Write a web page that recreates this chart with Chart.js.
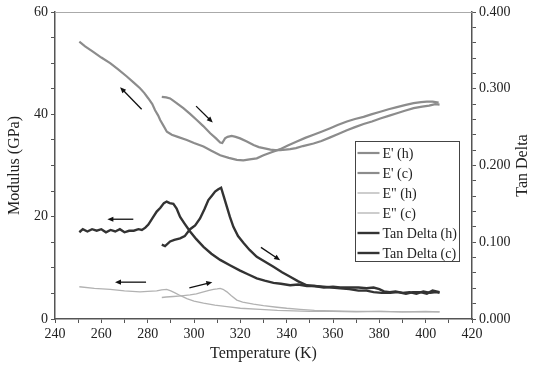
<!DOCTYPE html>
<html>
<head>
<meta charset="utf-8">
<script src="https://cdn.jsdelivr.net/npm/chart.js@4"></script>
<style>
  html, body { margin: 0; padding: 0; background: #fff; }
  canvas { display: block; }
</style>
</head>
<body>
<canvas id="dmaChart" width="534" height="369"></canvas>
<script>
// heating (h) runs from 286 K upward, cooling (c) from 406 K down to 250 K
var ePrimeHTemp = [286.1, 288, 289.7, 292.5, 295.4, 298.3, 301.2, 304, 307, 309.5, 311.3, 312.2, 313.4, 314.5, 316.3, 318, 319.9, 322.8, 325.7, 328, 330, 333, 335, 337.2, 339.5, 341.5, 344, 347, 351.6, 355, 358.8, 362.5, 366, 369.5, 373.2, 376.8, 380.4, 384, 387.6, 391, 394.8, 398.5, 401.5, 404.1, 406];
var ePrimeH = [43.4, 43.3, 43.1, 42.2, 41.2, 40.1, 38.9, 37.7, 36.3, 35.3, 34.5, 34.4, 35.3, 35.6, 35.8, 35.6, 35.3, 34.7, 34.0, 33.6, 33.4, 33.1, 33.0, 33.0, 33.1, 33.2, 33.4, 33.8, 34.3, 34.8, 35.5, 36.2, 36.9, 37.5, 38.1, 38.6, 39.2, 39.7, 40.2, 40.7, 41.2, 41.5, 41.7, 42.0, 41.9];

var ePrimeCTemp = [250.5, 253, 256.5, 260, 263.8, 267, 271, 274, 276.7, 278.5, 280.3, 282, 283.2, 284.5, 285.4, 286.8, 288.3, 290.4, 293, 296.9, 300, 304.1, 307.5, 311.3, 315, 318.5, 321.3, 324, 327.1, 330, 333.5, 337.2, 340.5, 344.4, 348, 351.6, 355, 358.8, 362, 366, 369.5, 373.2, 376.5, 380.4, 384, 387.6, 391, 394.8, 398, 400.5, 403, 405.6];
var ePrimeC = [54.2, 53.3, 52.2, 51.1, 50.0, 48.9, 47.4, 46.2, 45.1, 44.2, 43.1, 42.0, 40.8, 39.8, 38.9, 37.8, 36.6, 36.0, 35.6, 35.0, 34.4, 33.7, 32.9, 32.0, 31.5, 31.1, 31.0, 31.2, 31.4, 32.0, 32.6, 33.2, 33.9, 34.7, 35.4, 36.0, 36.6, 37.3, 37.9, 38.6, 39.1, 39.5, 40.0, 40.5, 41.0, 41.4, 41.8, 42.2, 42.4, 42.5, 42.5, 42.3];

var eDoubleHTemp = [286.1, 288, 291.1, 294.5, 298.3, 301, 304.1, 306.5, 308.4, 310, 311.3, 312.5, 314.2, 316, 318.5, 321, 325.7, 330, 335.8, 340, 345.8, 352, 360, 370, 380, 390, 400, 406];
var eDoubleH = [4.2, 4.3, 4.4, 4.5, 4.7, 4.9, 5.3, 5.6, 5.8, 5.9, 6.0, 5.8, 5.3, 4.6, 3.7, 3.3, 2.9, 2.6, 2.3, 2.1, 1.9, 1.7, 1.6, 1.5, 1.5, 1.4, 1.4, 1.4];

var eDoubleCTemp = [250.5, 257, 263.8, 270, 276.7, 280, 283.9, 286, 288.2, 290, 291.8, 294, 296.9, 300, 304.1, 309, 314.2, 320, 328.6, 336, 343, 350, 360, 370, 380, 390, 400, 406];
var eDoubleC = [6.3, 6.0, 5.8, 5.5, 5.3, 5.4, 5.5, 5.7, 5.8, 5.5, 5.1, 4.6, 4.0, 3.5, 3.1, 2.7, 2.4, 2.1, 1.9, 1.7, 1.6, 1.5, 1.5, 1.4, 1.5, 1.4, 1.5, 1.4];

var tanDeltaHTemp = [286.1, 287.5, 289.7, 291.5, 294, 296, 298.3, 300.5, 302.6, 304.5, 306.2, 307.8, 309.1, 310.5, 311.7, 312.8, 314.2, 315.5, 317, 319, 321.4, 324, 327.1, 330.5, 334.3, 338, 341.5, 345, 348.7, 352, 355.9, 359.5, 363.1, 367, 371, 374.5, 377.5, 381, 384.7, 388, 391.5, 394.5, 397.7, 400.5, 403, 406];
var tanDeltaH = [0.097, 0.095, 0.101, 0.103, 0.105, 0.108, 0.117, 0.122, 0.131, 0.143, 0.155, 0.161, 0.166, 0.169, 0.171, 0.160, 0.146, 0.133, 0.120, 0.108, 0.099, 0.090, 0.081, 0.075, 0.068, 0.061, 0.055, 0.049, 0.044, 0.043, 0.042, 0.041, 0.040, 0.039, 0.037, 0.037, 0.035, 0.034, 0.034, 0.035, 0.033, 0.035, 0.035, 0.033, 0.037, 0.035];

var tanDeltaCTemp = [250.5, 252, 254, 256, 258, 260, 262, 264, 266, 268, 270, 272, 274, 276, 277.5, 279, 280.3, 282, 283.9, 285.5, 287, 288.2, 289.5, 291.1, 292.5, 294, 296, 298.3, 301, 304.1, 307.5, 311.3, 315.5, 319.9, 323.5, 327.1, 330.5, 334.3, 337.5, 341.5, 345, 348.7, 352, 356, 360, 363.1, 367, 371, 374.5, 377.5, 380, 382, 384.5, 387, 390, 393, 396, 399, 402, 404.5, 406];
var tanDeltaC = [0.113, 0.117, 0.114, 0.117, 0.115, 0.117, 0.113, 0.116, 0.114, 0.117, 0.113, 0.115, 0.115, 0.117, 0.116, 0.119, 0.123, 0.131, 0.140, 0.145, 0.151, 0.153, 0.151, 0.150, 0.144, 0.133, 0.124, 0.114, 0.104, 0.094, 0.085, 0.077, 0.070, 0.063, 0.058, 0.053, 0.050, 0.047, 0.046, 0.044, 0.045, 0.043, 0.043, 0.041, 0.042, 0.041, 0.041, 0.041, 0.040, 0.041, 0.039, 0.036, 0.035, 0.036, 0.034, 0.035, 0.033, 0.036, 0.034, 0.035, 0.034];

var seriesLabels = ["E' (h)", "E' (c)", "E\" (h)", "E\" (c)", "Tan Delta (h)", "Tan Delta (c)"];

// direction arrows, [T start, E start, T end, E end] in axis units (left axis)
var arrows = [
    [277.4, 41.0, 268.1, 45.3],
    [300.9, 41.6, 308.1, 38.4],
    [273.8, 19.5, 262.6, 19.5],
    [328.9, 14.0, 337.2, 11.5],
    [279.3, 7.2, 265.9, 7.2],
    [298.0, 6.1, 307.9, 7.2]
];

function pairUp(xs, ys) {
    return xs.map(function (x, i) { return { x: x, y: ys[i] }; });
}

var serif = "'Liberation Serif', 'Times New Roman', serif";
var axisColor = '#555';

function makeSet(label, xs, ys, color, width, axis) {
    return {
        label: label,
        data: pairUp(xs, ys),
        borderColor: color,
        borderWidth: width,
        pointRadius: 0,
        tension: 0,
        fill: false,
        yAxisID: axis
    };
}

var datasets = [
    makeSet(seriesLabels[0], ePrimeHTemp, ePrimeH, '#8c8c8c', 2.2, 'y'),
    makeSet(seriesLabels[1], ePrimeCTemp, ePrimeC, '#8c8c8c', 2.2, 'y'),
    makeSet(seriesLabels[2], eDoubleHTemp, eDoubleH, '#b2b2b2', 1.3, 'y'),
    makeSet(seriesLabels[3], eDoubleCTemp, eDoubleC, '#b2b2b2', 1.3, 'y'),
    makeSet(seriesLabels[4], tanDeltaHTemp, tanDeltaH, '#333333', 2.4, 'y2'),
    makeSet(seriesLabels[5], tanDeltaCTemp, tanDeltaC, '#333333', 2.4, 'y2')
];

var decor = {
    id: 'decor',
    afterDraw: function (chart) {
        var ctx = chart.ctx;
        var area = chart.chartArea;
        var xs = chart.scales.x, ys = chart.scales.y;
        ctx.save();

        // thin frame line along the top
        ctx.strokeStyle = '#aaa';
        ctx.lineWidth = 1;
        ctx.beginPath();
        ctx.moveTo(area.left, area.top + 0.5);
        ctx.lineTo(area.right, area.top + 0.5);
        ctx.stroke();

        // arrows
        ctx.strokeStyle = '#111';
        ctx.fillStyle = '#111';
        ctx.lineWidth = 1.3;
        arrows.forEach(function (a) {
            var x1 = xs.getPixelForValue(a[0]), y1 = ys.getPixelForValue(a[1]);
            var x2 = xs.getPixelForValue(a[2]), y2 = ys.getPixelForValue(a[3]);
            var ang = Math.atan2(y2 - y1, x2 - x1);
            ctx.beginPath();
            ctx.moveTo(x1, y1);
            ctx.lineTo(x2 - 4 * Math.cos(ang), y2 - 4 * Math.sin(ang));
            ctx.stroke();
            ctx.beginPath();
            ctx.moveTo(x2, y2);
            ctx.lineTo(x2 - 6 * Math.cos(ang) + 2.6 * Math.sin(ang), y2 - 6 * Math.sin(ang) - 2.6 * Math.cos(ang));
            ctx.lineTo(x2 - 6 * Math.cos(ang) - 2.6 * Math.sin(ang), y2 - 6 * Math.sin(ang) + 2.6 * Math.cos(ang));
            ctx.closePath();
            ctx.fill();
        });

        // legend box
        var lx = 355.5, ly = 141.5, lw = 104, lh = 120;
        ctx.fillStyle = '#fff';
        ctx.fillRect(lx, ly, lw, lh);
        ctx.strokeStyle = '#444';
        ctx.lineWidth = 1;
        ctx.strokeRect(lx, ly, lw, lh);
        ctx.font = '14px ' + serif;
        ctx.textBaseline = 'middle';
        ctx.textAlign = 'left';
        chart.data.datasets.forEach(function (ds, i) {
            var y = 153 + i * 20;
            ctx.strokeStyle = ds.borderColor;
            ctx.lineWidth = ds.borderWidth;
            ctx.beginPath();
            ctx.moveTo(lx + 2, y);
            ctx.lineTo(lx + 24, y);
            ctx.stroke();
            ctx.fillStyle = '#222';
            ctx.fillText(ds.label, lx + 27, y + 1);
        });

        // axis titles
        ctx.fillStyle = '#222';
        ctx.font = '16px ' + serif;
        ctx.textAlign = 'center';
        ctx.textBaseline = 'middle';
        var midY = (area.top + area.bottom) / 2;
        ctx.fillText('Temperature (K)', (area.left + area.right) / 2, 354);
        ctx.save();
        ctx.translate(15, midY);
        ctx.rotate(-Math.PI / 2);
        ctx.fillText('Modulus (GPa)', 0, 0);
        ctx.restore();
        ctx.save();
        ctx.translate(523, midY);
        ctx.rotate(-Math.PI / 2);
        ctx.fillText('Tan Delta', 0, 0);
        ctx.restore();

        ctx.restore();
    }
};

var tickFont = { family: serif, size: 14 };

new Chart(document.getElementById('dmaChart').getContext('2d'), {
    type: 'line',
    data: { datasets: datasets },
    options: {
        responsive: false,
        animation: false,
        layout: { padding: { top: 12, left: 0, right: 0, bottom: 0 } },
        plugins: {
            legend: { display: false },
            tooltip: { enabled: false }
        },
        scales: {
            x: {
                type: 'linear',
                min: 240,
                max: 420,
                afterFit: function (s) { s.height = 50; },
                ticks: {
                    stepSize: 10,
                    autoSkip: false,
                    maxRotation: 0,
                    padding: 3,
                    color: '#222',
                    font: tickFont,
                    callback: function (v) { return v % 20 === 0 ? v : ''; }
                },
                grid: { drawOnChartArea: false, tickLength: 4, color: axisColor },
                border: { color: axisColor, width: 1.5 }
            },
            y: {
                position: 'left',
                min: 0,
                max: 60,
                afterFit: function (s) { s.width = 55; },
                ticks: {
                    stepSize: 5,
                    autoSkip: false,
                    padding: 3,
                    color: '#222',
                    font: tickFont,
                    callback: function (v) { return v % 20 === 0 ? v : ''; }
                },
                grid: { drawOnChartArea: false, tickLength: 4, color: axisColor },
                border: { color: axisColor, width: 1.5 }
            },
            y2: {
                position: 'right',
                min: 0,
                max: 0.4,
                afterFit: function (s) { s.width = 62; },
                ticks: {
                    stepSize: 0.02,
                    autoSkip: false,
                    padding: 3,
                    color: '#222',
                    font: tickFont,
                    callback: function (v) {
                        return Math.abs(v * 10 - Math.round(v * 10)) < 1e-6 ? v.toFixed(3) : '';
                    }
                },
                grid: { drawOnChartArea: false, tickLength: 4, color: axisColor },
                border: { color: axisColor, width: 1.5 }
            }
        }
    },
    plugins: [decor]
});
</script>
</body>
</html>
